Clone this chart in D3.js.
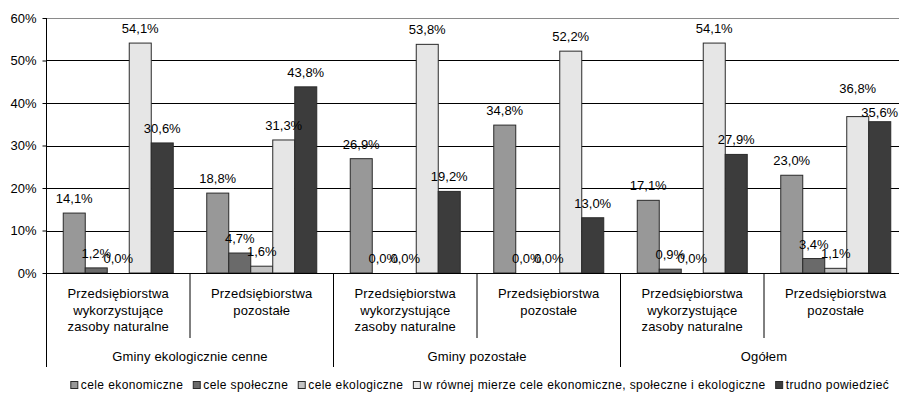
<!DOCTYPE html>
<html>
<head>
<meta charset="utf-8">
<script src="https://cdn.jsdelivr.net/npm/d3@7/dist/d3.min.js"></script>
<style>
  html, body { margin: 0; padding: 0; background: #fff; }
  svg { display: block; }
  text { font-family: "Liberation Sans", Arial, sans-serif; fill: #000; }
</style>
</head>
<body>
<svg id="chart" width="899" height="399"></svg>
<script>
// Categories (multi-line labels) and their groups
const categories = [
  ["Przedsiębiorstwa", "wykorzystujące", "zasoby naturalne"],
  ["Przedsiębiorstwa", "pozostałe"],
  ["Przedsiębiorstwa", "wykorzystujące", "zasoby naturalne"],
  ["Przedsiębiorstwa", "pozostałe"],
  ["Przedsiębiorstwa", "wykorzystujące", "zasoby naturalne"],
  ["Przedsiębiorstwa", "pozostałe"]
];
const groups = ["Gminy ekologicznie cenne", "Gminy pozostałe", "Ogółem"];

// Series names
const seriesNames = [
  "cele ekonomiczne",
  "cele społeczne",
  "cele ekologiczne",
  "w równej mierze cele ekonomiczne, społeczne i ekologiczne",
  "trudno powiedzieć"
];

// Values (%) per series, one value per category
const celeEkonomiczne = [14.1, 18.8, 26.9, 34.8, 17.1, 23.0];
const celeSpoleczne   = [1.2, 4.7, 0.0, 0.0, 0.9, 3.4];
const celeEkologiczne = [0.0, 1.6, 0.0, 0.0, 0.0, 1.1];
const wRownejMierze   = [54.1, 31.3, 53.8, 52.2, 54.1, 36.8];
const trudnoPowiedziec = [30.6, 43.8, 19.2, 13.0, 27.9, 35.6];
const seriesValues = [celeEkonomiczne, celeSpoleczne, celeEkologiczne, wRownejMierze, trudnoPowiedziec];

// Y axis ticks
const yTicks = [0, 10, 20, 30, 40, 50, 60];

const colors = ["#989898", "#6a6a6a", "#c4c4c4", "#e6e6e6", "#3c3c3c"];

const svg = d3.select("#chart");

const plotLeft = 46.5, plotTop = 18, plotBottom = 273;
const catWidth = 143.5;

const y = d3.scaleLinear().domain([0, 60]).range([plotBottom, plotTop]);
const x0 = d3.scaleBand()
  .domain(d3.range(categories.length))
  .range([plotLeft, plotLeft + catWidth * categories.length])
  .paddingInner(0).paddingOuter(0);
const x1 = d3.scaleBand()
  .domain(d3.range(seriesNames.length))
  .range([0, x0.bandwidth()])
  .paddingInner(0)
  .paddingOuter((catWidth - 110) / 2 / 22);

const fmt = v => d3.format(".1f")(v).replace(".", ",") + "%";

// Gridlines
svg.append("g")
  .selectAll("line")
  .data(yTicks.filter(t => t > 0))
  .join("line")
  .attr("x1", plotLeft).attr("x2", 899)
  .attr("y1", d => Math.round(y(d)) + 0.5)
  .attr("y2", d => Math.round(y(d)) + 0.5)
  .attr("stroke", d => d === 60 ? "#8a8a8a" : "#000")
  .attr("stroke-width", 1);

// Y axis
const yAxis = d3.axisLeft(y).tickValues(yTicks).tickSize(4).tickPadding(6)
  .tickFormat(d => d + "%");
const gy = svg.append("g").attr("transform", `translate(${plotLeft},0)`).call(yAxis);
gy.select(".domain").remove();
gy.selectAll(".tick line").attr("stroke", "#000");
gy.selectAll(".tick text").style("font-size", "13px").attr("fill", "#000");

// Bars
const catG = svg.append("g")
  .selectAll("g")
  .data(categories.map((c, i) => i))
  .join("g")
  .attr("transform", i => `translate(${x0(i)},0)`);

catG.selectAll("rect")
  .data(i => seriesValues.map((vals, s) => ({ s, v: vals[i], c: i })))
  .join("rect")
  .attr("x", d => x1(d.s))
  .attr("width", x1.bandwidth())
  .attr("y", d => y(d.v))
  .attr("height", d => plotBottom - y(d.v))
  .attr("fill", d => colors[d.s])
  .attr("stroke", "#2a2a2a")
  .attr("stroke-width", 1)
  .attr("display", d => d.v > 0 ? null : "none");

// Manually moved labels (category-series) to avoid overlap
const labelNudge = { "5-3": -14, "5-4": 5 };

catG.selectAll("text.val")
  .data(i => seriesValues.map((vals, s) => ({ s, v: vals[i], c: i })))
  .join("text")
  .attr("class", "val")
  .attr("x", d => x1(d.s) + x1.bandwidth() / 2)
  .attr("y", d => y(d.v) - 10 + (labelNudge[d.c + "-" + d.s] || 0))
  .attr("text-anchor", "middle")
  .style("font-size", "13px")
  .text(d => fmt(d.v));

// X axis baseline
svg.append("line")
  .attr("x1", plotLeft).attr("x2", 899)
  .attr("y1", plotBottom + 0.5).attr("y2", plotBottom + 0.5)
  .attr("stroke", "#000");

// Left axis line (runs down through the category area)
svg.append("line")
  .attr("x1", plotLeft).attr("x2", plotLeft)
  .attr("y1", plotTop).attr("y2", 367)
  .attr("stroke", "#000");

// Category dividers
const catPerGroup = categories.length / groups.length;
svg.append("g")
  .selectAll("line")
  .data(d3.range(1, categories.length + 1))
  .join("line")
  .attr("x1", i => x0(i - 1) + x0.bandwidth())
  .attr("x2", i => x0(i - 1) + x0.bandwidth())
  .attr("y1", plotBottom)
  .attr("y2", i => i % catPerGroup === 0 ? 367 : 338)
  .attr("stroke", "#000");

// Category labels
const lineBase = [297.5, 314.5, 331];
svg.append("g")
  .selectAll("text")
  .data(categories.map((c, i) => ({ c, i })))
  .join("text")
  .attr("text-anchor", "middle")
  .style("font-size", "13px")
  .style("letter-spacing", "0.15px")
  .each(function (d) {
    const t = d3.select(this);
    d.c.forEach((line, k) => {
      t.append("tspan")
        .attr("x", x0(d.i) + x0.bandwidth() / 2)
        .attr("y", lineBase[k])
        .text(line);
    });
  });

// Group labels
svg.append("g")
  .selectAll("text")
  .data(groups.map((g, i) => ({ g, i })))
  .join("text")
  .attr("text-anchor", "middle")
  .attr("x", d => x0(d.i * catPerGroup) + x0.bandwidth() * catPerGroup / 2)
  .attr("y", 361)
  .style("font-size", "13px")
  .style("letter-spacing", "0.15px")
  .text(d => d.g);

// Legend
const legend = svg.append("g");
const items = legend.selectAll("g")
  .data(seriesNames.map((n, s) => ({ n, s })))
  .join("g");
items.append("rect")
  .attr("width", 7).attr("height", 7)
  .attr("y", -7.5)
  .attr("fill", d => colors[d.s])
  .attr("stroke", "#2a2a2a");
items.append("text")
  .attr("x", 10)
  .attr("y", 0)
  .style("font-size", "12px")
  .style("letter-spacing", "0.4px")
  .attr("fill", "#111")
  .text(d => d.n);
let cx = 0;
items.each(function () {
  const g = d3.select(this);
  g.attr("transform", `translate(${cx},0)`);
  cx += 10 + g.select("text").node().getComputedTextLength() + 10;
});
const totalW = cx - 10;
legend.attr("transform", `translate(${(69 + 890) / 2 - totalW / 2 + 0.5},389)`);
</script>
</body>
</html>
